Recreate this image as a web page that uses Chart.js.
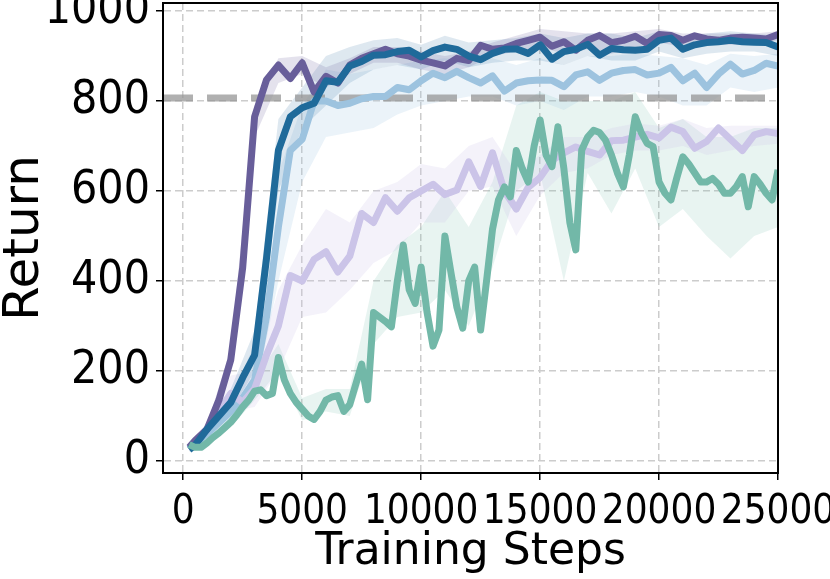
<!DOCTYPE html>
<html>
<head>
<meta charset="utf-8">
<script src="https://cdn.jsdelivr.net/npm/chart.js@4.4.1/dist/chart.umd.min.js"></script>
<style>
  html, body { margin: 0; padding: 0; background: #fff; }
  #wrap { width: 830px; height: 579px; }
</style>
</head>
<body>
<div id="wrap"><canvas id="chart" width="830" height="579"></canvas></div>
<script>
// x positions (training steps)
const stepsCoarse = [250, 500, 1000, 1500, 2000, 2500, 3000, 3500, 4000, 4500, 5000, 5500, 6000, 6500, 7000, 7500, 8000, 8500, 9000, 9500,
    10000, 10500, 11000, 11500, 12000, 12500, 13000, 13500, 14000, 14500, 15000, 15500, 16000, 16500, 17000, 17500, 18000, 18500, 19000, 19500,
    20000, 20500, 21000, 21500, 22000, 22500, 23000, 23500, 24000, 24500, 25000];
const stepsFine = [250, 500, 750, 1000, 1250, 1500, 1750, 2000, 2250, 2500, 2750, 3000, 3250, 3500, 3750, 4000, 4250, 4500, 4750, 5000,
    5250, 5500, 5750, 6000, 6250, 6500, 6750, 7000, 7250, 7500, 7750, 8000, 8250, 8500, 8750, 9000, 9250, 9500, 9750, 10000,
    10250, 10500, 10750, 11000, 11250, 11500, 11750, 12000, 12250, 12500, 12750, 13000, 13250, 13500, 13750, 14000, 14250, 14500, 14750, 15000,
    15250, 15500, 15750, 16000, 16250, 16500, 16750, 17000, 17250, 17500, 17750, 18000, 18250, 18500, 18750, 19000, 19250, 19500, 19750, 20000,
    20250, 20500, 20750, 21000, 21250, 21500, 21750, 22000, 22250, 22500, 22750, 23000, 23250, 23500, 23750, 24000, 24250, 24500, 24750, 25000];
const stepsBand = [250, 1000, 2000, 3000, 4000, 5000, 6000, 7000, 8000, 9000, 10000, 11000, 12000, 13000, 14000, 15000, 16000, 17000, 18000, 19000,
    20000, 21000, 22000, 23000, 24000, 25000];

const xTicks = [0, 5000, 10000, 15000, 20000, 25000];
const yTicks = [0, 200, 400, 600, 800, 1000];
const threshold = 807;

// mean returns
const purple = [30, 45, 70, 135, 225, 430, 765, 847, 880, 850, 885, 820, 855, 840, 880, 895, 905, 915, 905, 900,
    891, 885, 878, 895, 890, 924, 915, 918, 928, 935, 942, 922, 932, 913, 935, 946, 930, 935, 944, 928,
    948, 946, 935, 945, 938, 935, 940, 942, 940, 938, 948];
const darkBlue = [25, 35, 70, 100, 130, 185, 235, 450, 690, 765, 785, 795, 845, 842, 878, 888, 902, 903, 910, 913,
    898, 912, 920, 915, 900, 892, 906, 915, 916, 906, 925, 893, 910, 915, 926, 902, 917, 914, 913, 915,
    935, 940, 915, 925, 930, 932, 935, 932, 931, 930, 920];
const lightBlue = [30, 38, 60, 85, 110, 140, 180, 320, 520, 690, 715, 800, 800, 790, 795, 805, 810, 810, 830, 825,
    845, 862, 852, 866, 852, 840, 856, 822, 840, 845, 847, 846, 832, 858, 865, 846, 862, 868, 870, 858,
    862, 875, 845, 862, 830, 860, 882, 860, 868, 884, 878];
const lilac = [28, 40, 70, 110, 150, 130, 160, 235, 300, 412, 400, 448, 465, 420, 455, 550, 530, 585, 555, 585,
    600, 615, 592, 602, 665, 610, 685, 600, 560, 608, 630, 668, 685, 698, 688, 680, 712, 713, 720, 726,
    718, 742, 732, 695, 710, 740, 715, 690, 725, 732, 728];
const green = [36, 30, 30, 40, 52, 62, 74, 86, 102, 120, 135, 155, 158, 145, 150, 230, 180, 150, 130, 115,
    100, 92, 110, 135, 142, 145, 110, 125, 170, 215, 136, 330, 320, 310, 298, 400, 480, 380, 350, 431,
    330, 255, 291, 500, 420, 342, 295, 400, 431, 291, 400, 515, 580, 609, 587, 690, 650, 620, 700, 758,
    680, 654, 743, 650, 530, 469, 691, 720, 735, 730, 713, 680, 640, 609, 680, 765, 730, 706, 699, 620,
    595, 580, 630, 676, 660, 640, 620, 620, 628, 615, 595, 595, 610, 632, 565, 632, 615, 595, 580, 647];

// shaded spread (low / high)
const purpleLo = [25, 60, 200, 720, 840, 860, 830, 860, 885, 885, 870, 860, 875, 900, 910, 920, 905, 915, 905, 920, 930, 920, 925, 925, 925, 935];
const purpleHi = [35, 80, 250, 790, 895, 900, 875, 895, 920, 920, 910, 900, 910, 930, 945, 960, 955, 950, 950, 955, 960, 950, 950, 950, 950, 955];
const darkBlueLo = [20, 55, 110, 200, 600, 740, 790, 840, 870, 880, 870, 890, 875, 885, 890, 890, 880, 900, 890, 890, 910, 895, 905, 910, 910, 900];
const darkBlueHi = [30, 85, 160, 290, 760, 830, 900, 920, 935, 940, 925, 945, 930, 935, 940, 950, 940, 950, 950, 940, 955, 940, 950, 955, 950, 945];
const lightBlueLo = [25, 50, 80, 140, 400, 620, 720, 730, 740, 770, 790, 800, 810, 810, 790, 800, 780, 810, 810, 820, 810, 790, 790, 830, 820, 830];
const lightBlueHi = [35, 75, 140, 260, 640, 790, 870, 860, 870, 880, 890, 895, 890, 895, 880, 895, 880, 900, 900, 905, 900, 895, 880, 905, 900, 905];
const lilacLo = [22, 55, 110, 120, 200, 320, 330, 380, 440, 470, 530, 530, 600, 610, 500, 590, 640, 650, 680, 690, 690, 700, 680, 690, 700, 705];
const lilacHi = [35, 85, 190, 200, 380, 480, 560, 530, 600, 620, 660, 650, 700, 720, 640, 680, 720, 720, 740, 750, 745, 760, 740, 745, 745, 745];
const greenLo = [30, 35, 75, 135, 200, 90, 110, 100, 260, 320, 330, 380, 300, 430, 600, 640, 400, 640, 550, 650, 520, 560, 500, 450, 500, 520];
const greenHi = [42, 48, 100, 180, 260, 140, 160, 160, 400, 480, 520, 600, 520, 620, 790, 820, 800, 800, 800, 820, 740, 760, 720, 720, 740, 740];

const pts = (xs, ys) => xs.map((x, i) => ({ x: x, y: ys[i] }));

function line(data, xs, color, order) {
    return { data: pts(xs, data), borderColor: color, borderWidth: 7, pointRadius: 0, tension: 0,
        borderJoinStyle: 'round', fill: false, order: order };
}
function band(lo, hi, color) {
    return [
        { data: pts(stepsBand, hi), borderWidth: 0, pointRadius: 0, backgroundColor: color, fill: '+1', order: 20 },
        { data: pts(stepsBand, lo), borderWidth: 0, pointRadius: 0, fill: false, order: 20 }
    ];
}

const spines = {
    id: 'spines',
    afterDraw(chart) {
        const a = chart.chartArea, ctx = chart.ctx;
        ctx.save();
        ctx.strokeStyle = '#000';
        ctx.lineWidth = 2;
        ctx.strokeRect(a.left, a.top, a.right - a.left, a.bottom - a.top);
        ctx.restore();
    }
};

const narrow = "'Liberation Sans Narrow', 'DejaVu Sans Condensed', 'DejaVu Sans'";

new Chart(document.getElementById('chart').getContext('2d'), {
    type: 'line',
    data: {
        datasets: [
            ...band(purpleLo, purpleHi, 'rgba(104, 94, 154, 0.18)'),
            ...band(darkBlueLo, darkBlueHi, 'rgba(31, 104, 154, 0.15)'),
            ...band(lightBlueLo, lightBlueHi, 'rgba(157, 195, 223, 0.2)'),
            ...band(lilacLo, lilacHi, 'rgba(203, 196, 232, 0.22)'),
            ...band(greenLo, greenHi, 'rgba(114, 184, 168, 0.16)'),
            { data: [{ x: -850, y: threshold }, { x: 25000, y: threshold }], borderColor: 'rgba(150, 150, 150, 0.75)',
              borderWidth: 7, borderDash: [30, 14], pointRadius: 0, fill: false, order: 10 },
            line(lightBlue, stepsCoarse, '#9dc3df', 5),
            line(lilac, stepsCoarse, '#cbc4e8', 4),
            line(purple, stepsCoarse, '#685e9a', 3),
            line(darkBlue, stepsCoarse, '#1f6a9a', 2),
            line(green, stepsFine, '#72b8a8', 1)
        ]
    },
    options: {
        responsive: false,
        animation: false,
        devicePixelRatio: 1,
        layout: { padding: { left: 0, top: 3, right: 52, bottom: 0 } },
        plugins: { legend: { display: false }, tooltip: { enabled: false } },
        scales: {
            x: {
                type: 'linear',
                min: -850,
                max: 25000,
                afterBuildTicks: s => { s.ticks = xTicks.map(v => ({ value: v })); },
                afterFit: s => { s.height = 106; s.paddingLeft = 0; s.paddingRight = 0; },
                ticks: { font: { family: narrow, size: 40, lineHeight: 1 }, color: '#000', maxRotation: 0, autoSkip: false,
                         padding: 13, callback: v => String(v) },
                grid: { color: '#cccccc', lineWidth: 1.5, tickColor: '#000', tickWidth: 1.5, tickLength: 7, tickBorderDash: [] },
                border: { display: true, color: '#000', width: 2, dash: [7, 4] },
                title: { display: true, text: 'Training Steps', color: '#000',
                         font: { family: 'DejaVu Sans', size: 44, lineHeight: 1 }, padding: { top: 0, bottom: 4 } }
            },
            y: {
                min: -27,
                max: 1018,
                afterBuildTicks: s => { s.ticks = yTicks.map(v => ({ value: v })); },
                afterFit: s => { s.width = 163; s.paddingTop = 0; s.paddingBottom = 0; },
                ticks: { font: { family: narrow, size: 46, lineHeight: 1 }, color: '#000', padding: 6, callback: v => String(v) },
                grid: { color: '#cccccc', lineWidth: 1.5, tickColor: '#000', tickWidth: 1.5, tickLength: 7, tickBorderDash: [] },
                border: { display: true, color: '#000', width: 2, dash: [7, 4] },
                title: { display: true, text: 'Return', color: '#000',
                         font: { family: 'DejaVu Sans', size: 50, lineHeight: 1 }, padding: 0 }
            }
        }
    },
    plugins: [spines]
});
</script>
</body>
</html>
